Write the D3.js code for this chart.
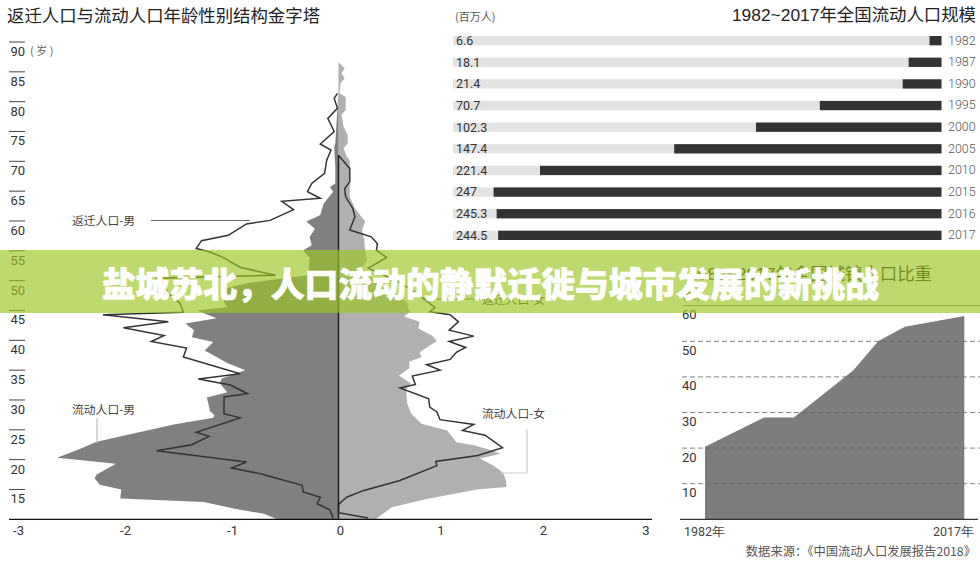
<!DOCTYPE html>
<html><head><meta charset="utf-8">
<script src="https://cdnjs.cloudflare.com/ajax/libs/d3/7.8.5/d3.min.js"></script>
<style>html,body{margin:0;padding:0;background:#fff;overflow:hidden}svg{display:block}
text{font-family:"Noto Sans CJK SC","Noto Sans",sans-serif}
.num{font-family:Roboto,"Liberation Sans",sans-serif}
.ttl{font-family:"Liberation Sans","Noto Sans CJK SC",sans-serif}</style></head><body>
<svg id="c" width="980" height="563"></svg>
<script>
// Pyramid: age / value pairs, as read against the printed axes
const maleFlowAges=[10,10.9,11.8,12.9,13.5,15,15.8,16.9,17.5,19.3,20.3,21.7,23,24,25.9,27,27.5,28.1,30.4,31.3,32.8,33.6,35,36.2,38.3,39.7,40.5,41.7,42.8,43.7,45,45.6,46.4,48.6,49.6,50.9,53.8,55.1,55.95,57.3,58.7,59.9,61,62.9,64.9,65.7,66.3,69.1,72.4,73,81.7];
const maleFlowVals=[-0.575,-0.69,-0.98,-1.26,-2.04,-2.03,-2.23,-2.28,-2.26,-2.08,-2.63,-2.43,-2.26,-2.01,-1.54,-1.17,-1.16,-1.2,-1.23,-1.04,-1.11,-1.09,-0.87,-1.04,-1.25,-1.17,-1.37,-1.35,-1.43,-1.14,-1.32,-1.04,-1.07,-1.08,-0.85,-0.285,-0.27,-0.33,-0.25,-0.27,-0.22,-0.30,-0.17,-0.14,-0.05,-0.08,-0.03,-0.03,-0.04,-0.03,0];
const femaleFlowAges=[10,12,13.4,15,15.4,16.8,17.9,19,20.2,21,21.8,22.4,22.9,24.9,26,27.7,29.4,31.9,32.7,34.1,35.3,36.4,37.2,38,39.9,40.8,42,43.1,44,44.8,45.4,46.4,48.4,50.4,52.2,53.4,55.1,56.8,58.5,59.9,62.1,64.05,67.97,70.2,70.8,72.2,73,74.4,75.8,77.8,78.6,80.8,81.4,83.1,83.9,84.75,85.6,86.6];
const femaleFlowVals=[0.36,0.52,0.86,1.35,1.64,1.63,1.60,1.51,1.38,1.58,1.45,1.32,1.15,1.06,0.81,0.71,0.67,0.66,0.71,0.59,0.69,0.69,0.81,0.79,0.96,0.91,0.78,0.79,0.64,0.70,0.68,0.67,0.50,0.33,0.23,0.28,0.26,0.25,0.23,0.26,0.16,0.11,0.11,0.11,0.08,0.05,0.09,0.09,0.05,0.03,0.07,0.07,0.01,0.02,0.06,0.03,0.06,0];
const maleReturnAges=[10.2,11.6,12.6,13.7,14.6,15.7,17.6,18.6,19.6,21.5,22.5,23.9,24.6,27,27.7,30.5,31.05,32.5,33.5,34.4,37.2,38.7,39.8,40.8,42.1,43.1,44.3,44.7,46.2,47.5,50.4,50.9,52.25,53.9,54.8,55.4,56.7,57.6,59.5,60.1,61.9,63.3,63.8,64.9,66.3,67.97,70.2,71.9,72.9,75,77.2,78.9,80.55,81.4];
const maleReturnVals=[-0.05,-0.08,-0.20,-0.17,-0.33,-0.34,-0.72,-1.00,-0.86,-1.70,-1.37,-1.21,-1.33,-0.92,-1.07,-1.07,-0.85,-1.01,-1.31,-0.92,-1.45,-1.42,-1.75,-1.63,-2.01,-1.59,-2.20,-1.45,-1.48,-1.57,-1.70,-0.59,-0.92,-1.08,-1.2,-1.33,-1.28,-1.03,-0.86,-0.64,-0.42,-0.53,-0.17,-0.29,-0.25,-0.13,-0.11,-0.07,-0.17,-0.04,-0.10,-0.01,-0.04,-0.01];
const femaleReturnAges=[10.2,11.1,12.5,13.7,14.8,16.5,19,19.7,20.7,22,24.1,24.9,25.9,26.7,28,28.8,30.2,32,32.6,34,35,35.9,36.8,38,38.8,39.8,40.7,41.7,43.1,44.3,44.8,45.5,47.1,48.4,50.1,52.1,53.9,55.1,56.2,57.35,58.5,60.7,62.1,64.05,65.4,66.6,68.8,71];
const femaleReturnVals=[0.29,0,0,0.08,0.24,0.60,0.96,0.95,1.36,1.60,1.43,1.21,1.32,0.99,0.96,0.89,0.88,0.60,0.75,0.72,0.99,0.86,1.09,1.15,1.24,1.08,1.32,1.08,1.17,1.09,0.89,0.94,0.82,0.72,0.55,0.29,0.47,0.37,0.38,0.32,0.11,0.16,0.14,0.07,0.06,0.11,0.11,0];
const ageTicks=[90,85,80,75,70,65,60,55,50,45,40,35,30,25,20,15];
const xTicks=[-3,-2,-1,0,1,2,3];
// Bars: printed label and the length as drawn in the picture
const barYears=["1982","1987","1990","1995","2000","2005","2010","2015","2016","2017"];
const barLabels=["6.6","18.1","21.4","70.7","102.3","147.4","221.4","247","245.3","244.5"];
const barValues=[6.6,18.1,21.4,67.1,102.3,147.4,221.4,247,245.3,244.5];
// Area
const areaYears=[1982,1990,1994,2002,2005.4,2009,2017];
const areaValues=[20.4,28.6,28.6,41.8,50.1,54.1,57.1];
const areaTicks=[60,50,40,30,20,10];

const svg=d3.select("#c");
const x=d3.scaleLinear().domain([-3,0,3]).range([17.5,338.5,646]);
const y=d3.scaleLinear().domain([10,90]).range([519.3,42]);
const pairs=(a,v)=>a.map((d,i)=>[d,v[i]]);
const area=d3.area().x0(x(0)).x1(d=>x(d[1])).y(d=>y(d[0]));
const line=d3.line().x(d=>x(d[1])).y(d=>y(d[0]));

svg.append("text").attr("x",7).attr("y",22).attr("font-size",17.4).attr("fill","#222").text("返迁人口与流动人口年龄性别结构金字塔");
svg.append("path").attr("d",area(pairs(femaleFlowAges,femaleFlowVals))).attr("fill","#b0b0b0");
svg.append("path").attr("d",area(pairs(maleFlowAges,maleFlowVals))).attr("fill","#808080");
[[maleReturnAges,maleReturnVals],[femaleReturnAges,femaleReturnVals]].forEach(([a,v])=>
  svg.append("path").attr("d",line(pairs(a,v))).attr("fill","none").attr("stroke","#333").attr("stroke-width",1.5));
svg.append("line").attr("x1",x(0)).attr("x2",x(0)).attr("y1",y(10)).attr("y2",y(71)).attr("stroke","#222").attr("stroke-width",1.5);
svg.append("line").attr("x1",9).attr("x2",652).attr("y1",y(10)).attr("y2",y(10)).attr("stroke","#111").attr("stroke-width",1.2);

const at=svg.append("g").selectAll("g").data(ageTicks).join("g").attr("transform",d=>`translate(0,${y(d)})`);
at.append("line").attr("x1",9).attr("x2",25).attr("stroke","#444").attr("stroke-width",1);
at.append("text").attr("class","num").attr("x",25).attr("y",14).attr("text-anchor","end").attr("font-size",13).attr("fill","#333").text(d=>d);
svg.append("text").attr("x",30).attr("y",55).attr("font-size",11).attr("fill","#666").attr("xml:space","preserve").text("( 岁 )");
svg.append("g").selectAll("text").data(xTicks).join("text").attr("class","num")
 .attr("x",d=>x(d)+(d===0?2:0)+(d<0?1:0)).attr("y",535).attr("text-anchor","middle").attr("font-size",13).attr("fill","#333").text(d=>d);

const notes=[["返迁人口-男",72,225],["流动人口-男",72,414],["流动人口-女",482,418],["返迁人口-女",482,304]];
svg.append("g").selectAll("text").data(notes).join("text").attr("x",d=>d[1]).attr("y",d=>d[2]).attr("font-size",11.8).attr("fill","#444").text(d=>d[0]);
svg.append("line").attr("x1",151).attr("x2",250).attr("y1",220.5).attr("y2",220.5).attr("stroke","#666");
svg.append("line").attr("x1",436).attr("x2",475).attr("y1",299).attr("y2",299).attr("stroke","#666");
svg.append("line").attr("x1",97).attr("x2",97).attr("y1",418).attr("y2",443).attr("stroke","#bbb").attr("stroke-width",1.2);
svg.append("path").attr("d","M527,429V473H500").attr("fill","none").attr("stroke","#ccc").attr("stroke-width",1.2);

// Bars
const bx=d3.scaleLinear().domain([0,247]).range([941.5,493.6]);
const by=d3.scaleBand().domain(barYears).range([36,240]).paddingInner(0.57).paddingOuter(0);
svg.append("text").attr("x",455).attr("y",21).attr("font-size",11).attr("fill","#555").text("(百万人)");
svg.append("text").attr("class","ttl").attr("x",976).attr("y",21).attr("text-anchor","end").attr("font-size",17.4).attr("fill","#222").text("1982~2017年全国流动人口规模");
const rows=svg.append("g").selectAll("g").data(barYears).join("g");
rows.append("rect").attr("x",453).attr("width",488.5).attr("y",d=>by(d)).attr("height",by.bandwidth()).attr("fill","#e3e3e3");
rows.append("rect").attr("x",(d,i)=>bx(barValues[i])).attr("width",(d,i)=>bx(0)-bx(barValues[i])).attr("y",d=>by(d)).attr("height",by.bandwidth()).attr("fill","#333");
rows.append("text").attr("class","num").attr("x",456).attr("y",d=>by(d)+9).attr("font-size",12.5).attr("fill","#333").text((d,i)=>barLabels[i]);
rows.append("text").attr("class","num").attr("x",948).attr("y",d=>by(d)+8.5).attr("font-size",12.5).attr("font-weight",300).attr("fill","#555").text(d=>d);

// Area chart
const ax=d3.scaleLinear().domain([1982,2017]).range([705,964.3]);
const ay=d3.scaleLinear().domain([0,60]).range([519.3,305.7]);
svg.append("text").attr("class","ttl").attr("x",932).attr("y",280).attr("text-anchor","end").attr("font-size",17.4).attr("fill","#222").text("1982~2017年全国城镇人口比重");
svg.append("text").attr("x",683).attr("y",300).attr("font-size",11).attr("fill","#555").text("(%)");
svg.append("path").attr("d",d3.area().x(d=>ax(d)).y0(ay(0)).y1((d,i)=>ay(areaValues[i]))(areaYears)).attr("fill","#7d7d7d");
svg.append("line").attr("x1",683).attr("x2",980).attr("y1",ay(60)).attr("y2",ay(60)).attr("stroke","#777");
const gt=svg.append("g").selectAll("g").data(areaTicks).join("g").attr("transform",d=>`translate(0,${ay(d)})`);
gt.filter(d=>d<60).append("line").attr("x1",682).attr("x2",980).attr("stroke","#666").attr("stroke-width",0.8).attr("stroke-dasharray","5 3");
gt.append("text").attr("class","num").attr("x",682).attr("y",13.5).attr("font-size",13).attr("fill","#333").text(d=>d);
svg.append("line").attr("x1",680).attr("x2",978).attr("y1",ay(0)).attr("y2",ay(0)).attr("stroke","#333").attr("stroke-width",1.2);
svg.append("text").attr("class","num").attr("x",684).attr("y",536).attr("font-size",12.5).attr("fill","#444").text("1982年");
svg.append("text").attr("class","num").attr("x",974).attr("y",536).attr("text-anchor","end").attr("font-size",12.5).attr("fill","#444").text("2017年");
svg.append("text").attr("x",976).attr("y",556).attr("text-anchor","end").attr("font-size",12.3).attr("fill","#555").text("数据来源：《中国流动人口发展报告2018》");

// Banner overlay
svg.append("rect").attr("x",0).attr("y",250).attr("width",980).attr("height",63).attr("fill","rgb(157,197,33)").attr("fill-opacity",0.66);
svg.append("text").attr("x",490.5).attr("y",296.5).attr("text-anchor","middle").attr("font-size",33.8).attr("font-weight",900).attr("fill","#fff").attr("stroke","#fff").attr("stroke-width",0.7).text("盐城苏北，人口流动的静默迁徙与城市发展的新挑战");
</script></body></html>
